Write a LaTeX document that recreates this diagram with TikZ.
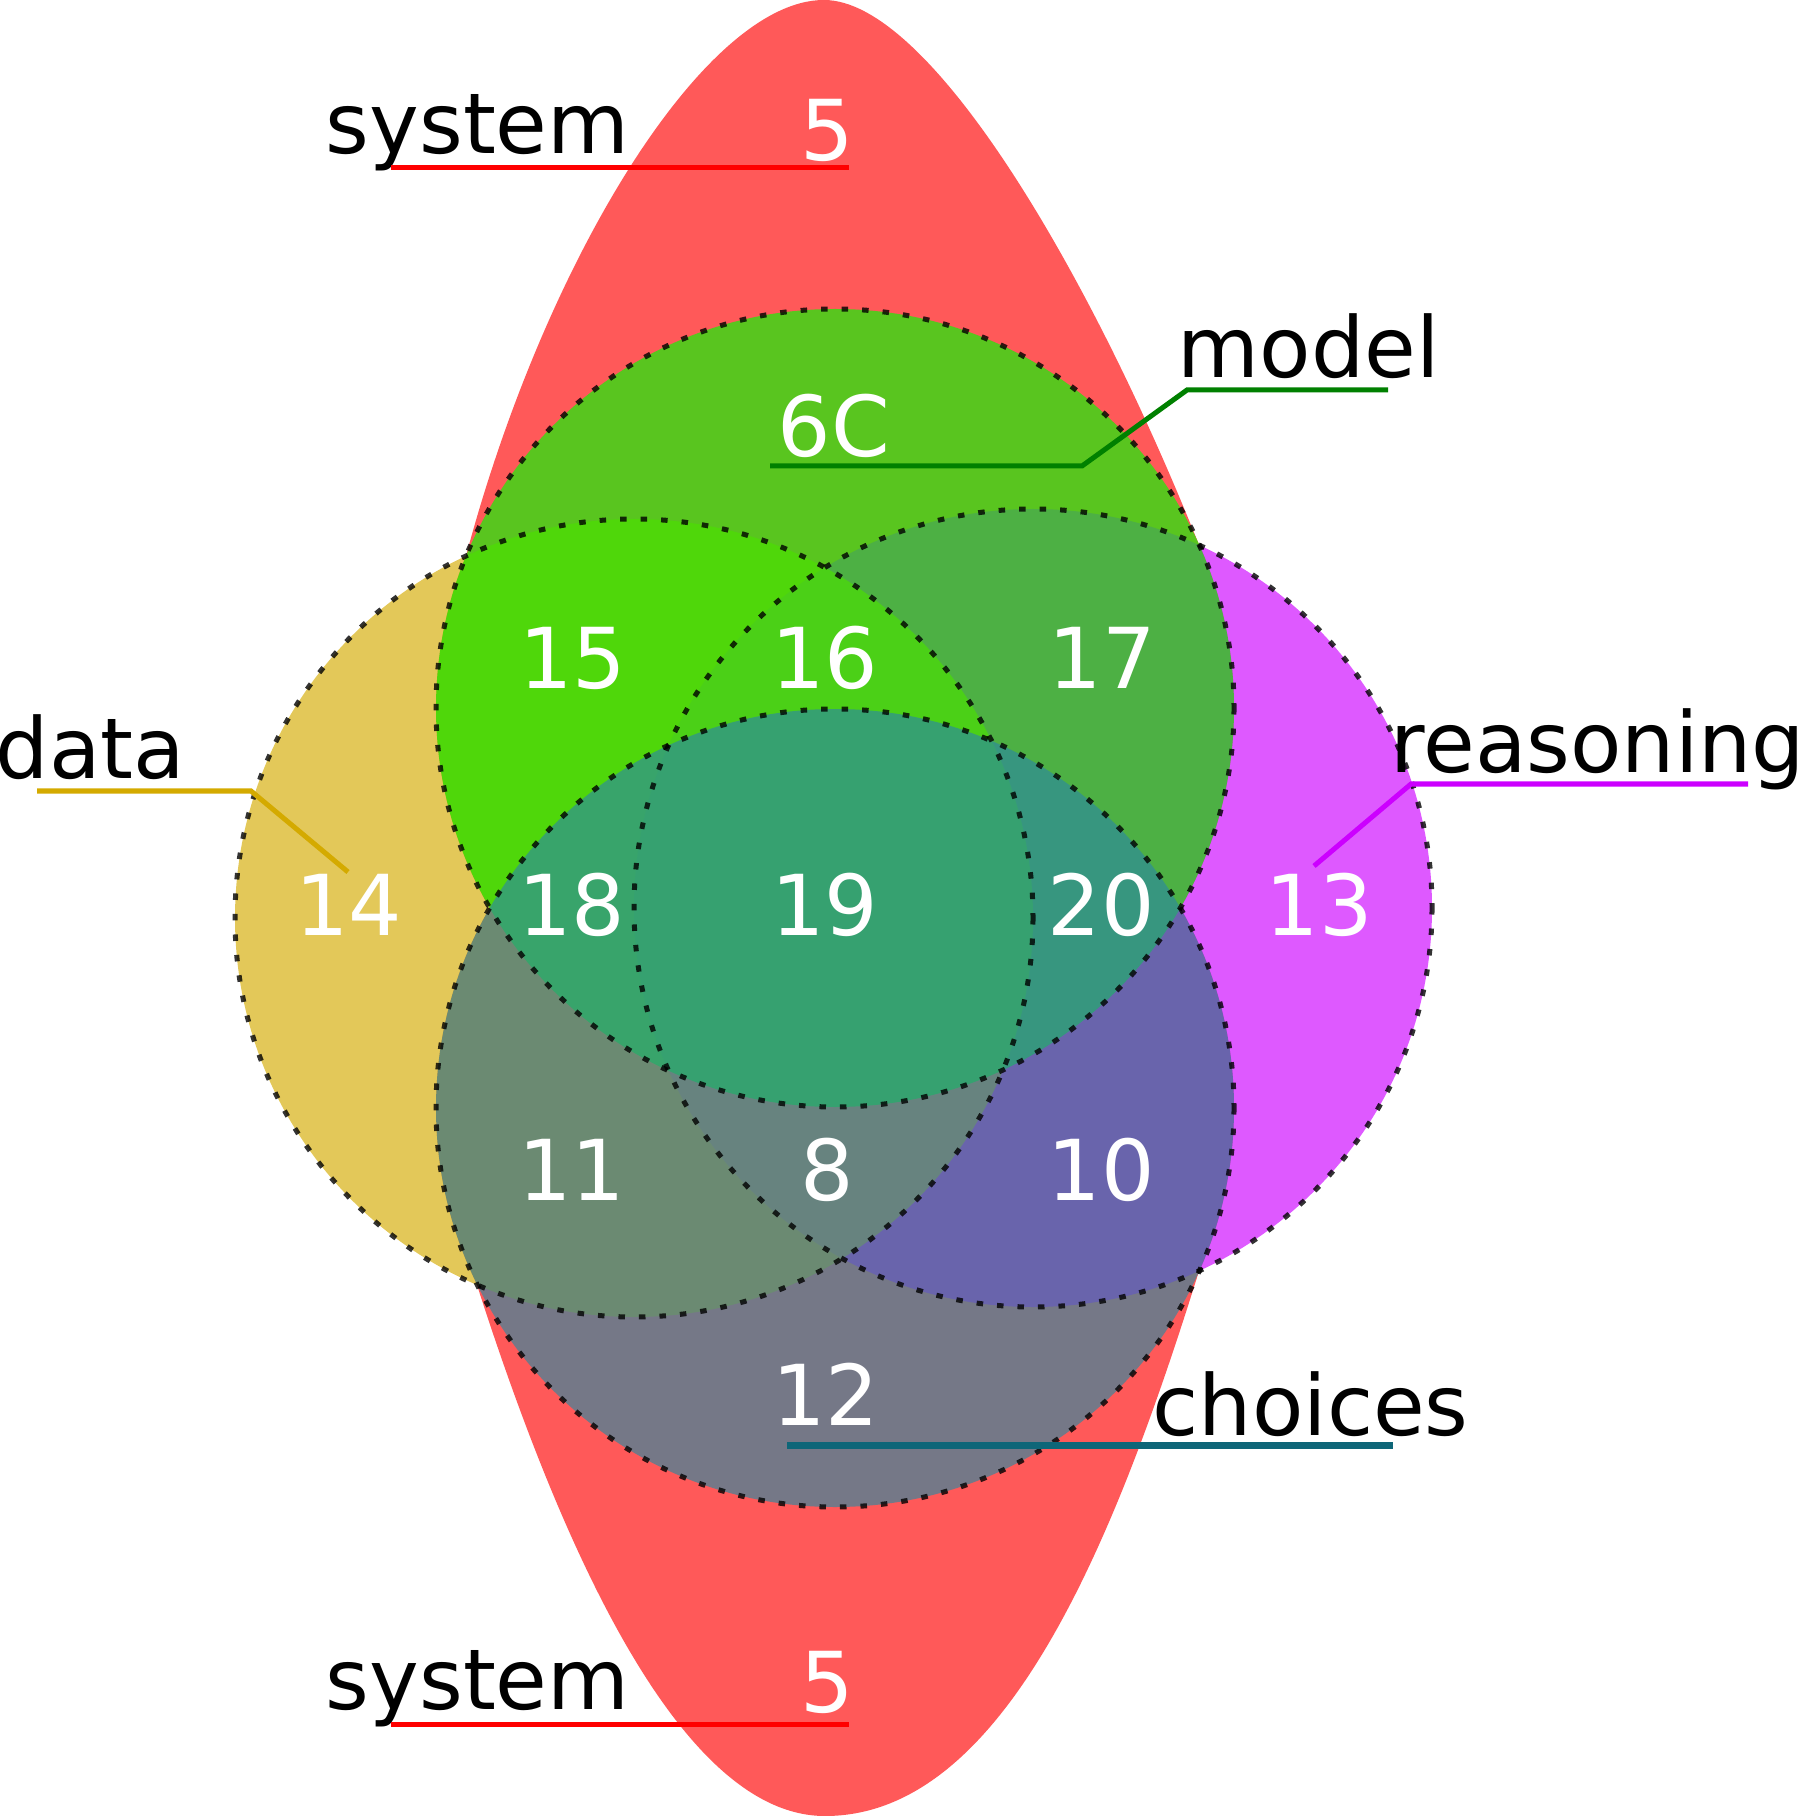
\documentclass[tikz,border=0pt]{standalone}
\usepackage{fontspec}
\setmainfont{DejaVu Sans}
\usetikzlibrary{positioning}
\definecolor{sysred}{RGB}{255,0,0}
\definecolor{redfill}{RGB}{255,89,89}
\definecolor{modelgreen}{RGB}{0,255,0}
\definecolor{modelline}{RGB}{0,128,0}
\definecolor{datayellow}{RGB}{212,170,0}
\definecolor{reasonmag}{RGB}{204,0,255}
\definecolor{choiceblue}{RGB}{44,137,160}
\definecolor{choiceline}{RGB}{14,102,120}
\tikzset{
  setfill/.style={fill=#1, fill opacity=0.65},
  ring/.style={draw=black, draw opacity=0.8, line width=0.05cm, dash pattern=on 0.065cm off 0.14cm},
  count/.style={text=white, inner sep=0pt, anchor=base, font=\fontsize{23.9}{28}\selectfont},
  setname/.style={text=black, inner sep=0pt, anchor=base west, font=\fontsize{23.9}{28}\selectfont},
  leader/.style={draw=#1, line width=0.05cm}
}
\begin{document}
\begin{tikzpicture}[x=0.01cm, y=-0.01cm]
  \useasboundingbox (0,0) rectangle (1800,1816);
  % circle centres
  \coordinate (cModel) at (835,708);
  \coordinate (cChoice) at (835,1108);
  \coordinate (cData) at (634,918);
  \coordinate (cReason) at (1033,908);

  % system: two caps plus the middle
  \fill[redfill] (466,556) .. controls (545,260) and (705,0) .. (824,0)
    .. controls (930,0) and (1090,272) .. (1199,545) -- cycle;
  \fill[redfill] (477,1285) .. controls (567,1565) and (685,1816) .. (825,1816)
    .. controls (1005,1816) and (1115,1540) .. (1199,1271) -- cycle;
  \fill[redfill] (cModel) circle[radius=399];
  \fill[redfill] (cChoice) circle[radius=399];

  % the other four sets
  \fill[setfill=reasonmag] (cReason) circle[radius=399];
  \fill[setfill=datayellow] (cData) circle[radius=399];
  \fill[setfill=modelgreen] (cModel) circle[radius=399];
  \fill[setfill=choiceblue] (cChoice) circle[radius=399];
  \foreach \c in {cReason,cData,cModel,cChoice}
    \draw[ring] (\c) circle[radius=399];

  % counts
  \node[count] (fiveTop) at (827,161) {5};
  \node[count] (n6C) at (834,457) {6C};
  \node[count] (n15) at (573,689) {15};
  \node[count] (n16) at (825,689) {16};
  \node[count] (n17) at (1102,689) {17};
  \node[count] (n14) at (349,935) {14};
  \node[count] (n18) at (572,935) {18};
  \node[count] (n19) at (825,935) {19};
  \node[count] (n20) at (1101,935) {20};
  \node[count] (n13) at (1319,935) {13};
  \node[count] (n11) at (572,1200) {11};
  \node[count] (n8) at (827,1200) {8};
  \node[count] (n10) at (1101,1200) {10};
  \node[count] (n12) at (826,1425) {12};
  \node[count] (fiveBot) at (827,1712) {5};

  % set names
  \node[setname] (sysTop) at (325,154) {system};
  \node[setname] (sysBot) at (325,1709) {system};
  \node[setname] (model) at (1177,378) {model};
  \node[setname] (data) at (-5,778) {data};
  \node[setname] (reason) at (1390,772) {reasoning};
  \node[setname] (choices) at (1152,1435) {choices};

  % leader lines
  \coordinate (sysTopL) at (391,168);
  \coordinate (sysTopR) at (849,168);
  \coordinate (sysBotL) at (391,1724);
  \coordinate (sysBotR) at (849,1724);
  \coordinate (modelA) at (770,466);
  \coordinate (modelB) at (1082,466);
  \coordinate (modelC) at (1187,390);
  \coordinate (modelD) at (1388,390);
  \coordinate (dataA) at (37,791);
  \coordinate (dataB) at (251,791);
  \coordinate (dataC) at (348,872);
  \coordinate (reasonA) at (1314,866);
  \coordinate (reasonB) at (1411,784);
  \coordinate (reasonC) at (1748,784);
  \coordinate (choicesA) at (787,1445);
  \coordinate (choicesB) at (1393,1445);
  \draw[leader=sysred] (sysTopL) -- (sysTopR);
  \draw[leader=sysred] (sysBotL) -- (sysBotR);
  \draw[leader=modelline] (modelA) -- (modelB) -- (modelC) -- (modelD);
  \draw[leader=datayellow] (dataA) -- (dataB) -- (dataC);
  \draw[leader=reasonmag] (reasonA) -- (reasonB) -- (reasonC);
  \draw[leader=choiceline, line width=0.07cm] (choicesA) -- (choicesB);
\end{tikzpicture}
\end{document}
